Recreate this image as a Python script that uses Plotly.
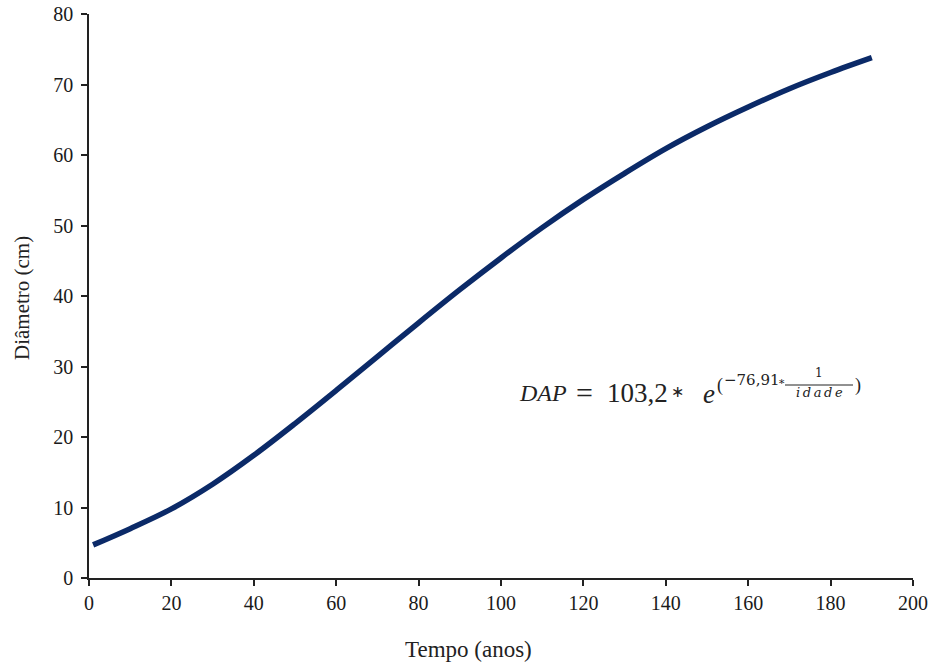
import plotly.graph_objects as go

# Data
tempo = [1, 10, 20, 30, 40, 50, 60, 70, 80, 90, 100, 110, 120, 130, 140, 150, 160, 170, 180, 190]
diametro = [4.7, 7.0, 9.8, 13.3, 17.4, 21.9, 26.6, 31.4, 36.2, 40.9, 45.4, 49.7, 53.7, 57.4,
            60.9, 64.0, 66.8, 69.4, 71.7, 73.8]
x_ticks = [0, 20, 40, 60, 80, 100, 120, 140, 160, 180, 200]
y_ticks = [0, 10, 20, 30, 40, 50, 60, 70, 80]

W, H = 933, 663
ML, MR, MT, MB = 89, 20, 14, 85
PW, PH = W - ML - MR, H - MT - MB


def px(xp):
    return (xp - ML) / PW


def py(yp):
    return (H - MB - yp) / PH


FONT = "Liberation Serif"
EQ_FONT = "Liberation Serif"
LINE_COLOR = "#0B2A68"
TXT = "#1a1a1a"

fig = go.Figure()
fig.add_trace(go.Scatter(
    x=tempo, y=diametro, mode="lines",
    line=dict(color=LINE_COLOR, width=5.5, shape="spline", smoothing=1.0),
    showlegend=False, hoverinfo="x+y",
))

axis_common = dict(
    showline=True, linecolor="#222222", linewidth=1.5, mirror=False,
    ticks="outside", ticklen=6, tickwidth=1.5, tickcolor="#222222",
    showgrid=False, zeroline=False, automargin=False,
    tickfont=dict(family=FONT, size=20, color=TXT),
)

fig.update_layout(
    template="none",
    width=W, height=H,
    margin=dict(l=ML, r=MR, t=MT, b=MB, autoexpand=False),
    paper_bgcolor="white", plot_bgcolor="white",
    xaxis=dict(range=[0, 200], tickvals=x_ticks, **axis_common),
    yaxis=dict(range=[0, 80], tickvals=y_ticks, ticklabelstandoff=4, **axis_common),
    font=dict(family=FONT),
)


def ann(text, x, y, size, xanchor="left", family=EQ_FONT, angle=0):
    return dict(text=text, x=px(x), y=py(y), xref="paper", yref="paper",
                showarrow=False, xanchor=xanchor, yanchor="middle", textangle=angle,
                font=dict(family=family, size=size, color="#222222"))


annotations = [
    # axis titles
    ann("Tempo (anos)", 468, 649, 23, xanchor="center", family=FONT),
    ann("Diâmetro (cm)", 22, 298, 21, xanchor="center", family=FONT, angle=-90),
    # equation pieces
    ann("<i>DAP</i>", 517, 393, 24),
    ann("=", 584, 392, 30, xanchor="center"),
    ann("103,2", 605, 393, 27),
    ann("∗", 677, 391, 16, xanchor="center"),
    ann("<i>e</i>", 701, 394, 27),
    ann("(", 715, 385, 18),
    ann("−76,91", 722, 380, 15, family="DejaVu Serif"),
    ann("∗", 781, 381, 11, xanchor="center", family="DejaVu Serif"),
    ann("1", 819, 373, 12, xanchor="center", family="DejaVu Serif"),
    ann("<i>i\u2009d\u2009a\u2009d\u2009e</i>", 819, 392, 13, xanchor="center", family="DejaVu Serif"),
    ann(")", 853, 385, 18),
]
fig.update_layout(annotations=annotations)

fig.add_shape(type="line", xref="paper", yref="paper",
              x0=px(785), x1=px(853), y0=py(385), y1=py(385),
              line=dict(color="#222222", width=1))

fig.write_html("out.html", config={"displayModeBar": False},
               post_script="document.body.style.margin='0';document.body.style.overflow='hidden';")
